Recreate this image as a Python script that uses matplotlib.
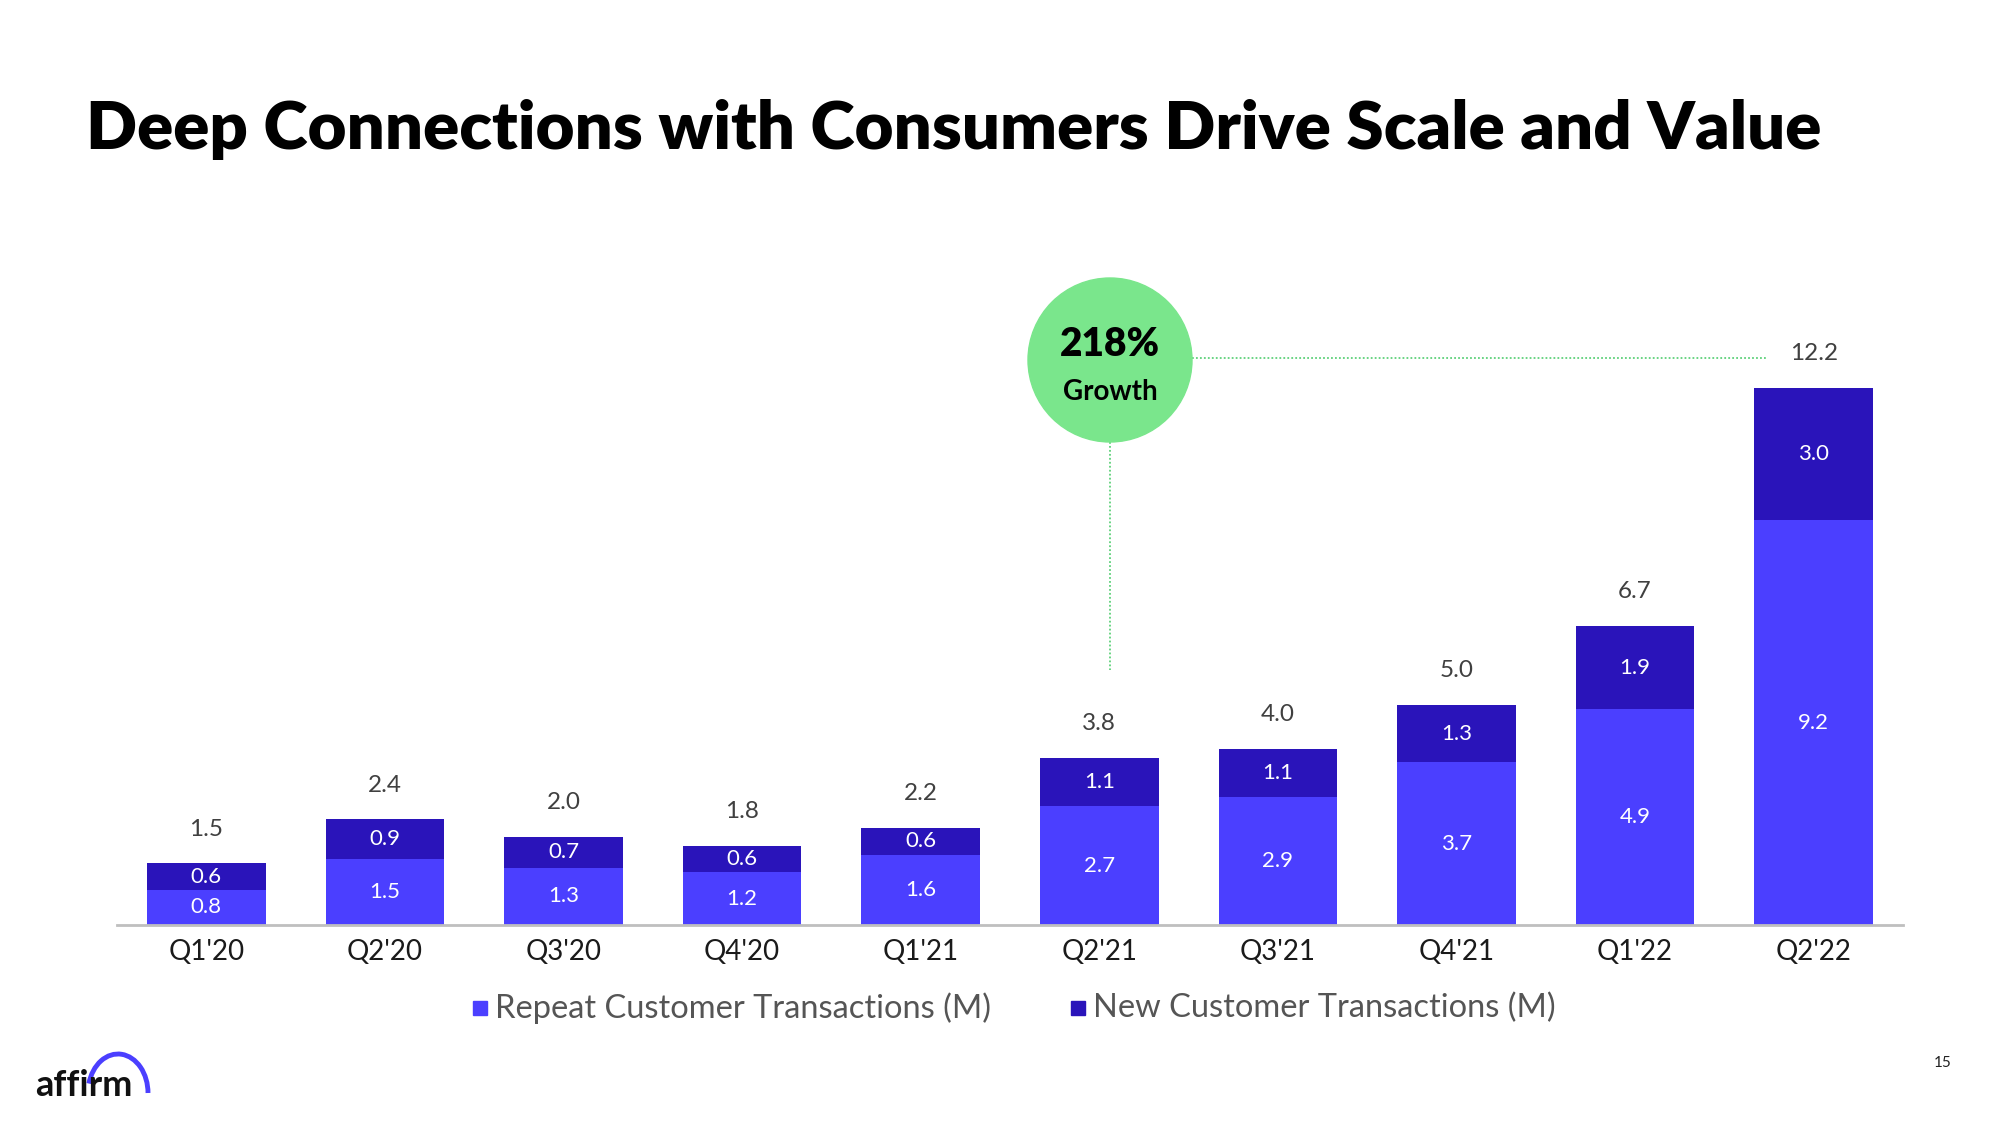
import matplotlib.pyplot as plt
from matplotlib.patches import Ellipse, Arc, Rectangle
from matplotlib.lines import Line2D

# data
quarters = ["Q1'20", "Q2'20", "Q3'20", "Q4'20", "Q1'21", "Q2'21", "Q3'21", "Q4'21", "Q1'22", "Q2'22"]
repeat_tx = [0.8, 1.5, 1.3, 1.2, 1.6, 2.7, 2.9, 3.7, 4.9, 9.2]
new_tx = [0.6, 0.9, 0.7, 0.6, 0.6, 1.1, 1.1, 1.3, 1.9, 3.0]
totals = [1.5, 2.4, 2.0, 1.8, 2.2, 3.8, 4.0, 5.0, 6.7, 12.2]
growth_label = "218%"

C_REPEAT = '#4B3FFF'
C_NEW = '#2A14BA'
C_GREEN = '#7AE68C'
C_TEXT = '#404040'

plt.rcParams['font.family'] = ['Lato', 'DejaVu Sans']

W, H = 2000, 1125
fig = plt.figure(figsize=(20, 11.25), dpi=100)


def fx(px):
    return px / W


def fy(py):
    # pixel from top -> figure fraction
    return 1 - py / H


# axes: baseline at 925px, 44 px per unit
ax_left, ax_right = 117, 1903
base, top = 925, 175
ax = fig.add_axes([fx(ax_left), fy(base), fx(ax_right - ax_left), (base - top) / H])
ax.set_xlim(-0.5, 9.5)
ax.set_ylim(0, (base - top) / 44.0)

x = list(range(len(quarters)))
ax.bar(x, repeat_tx, width=0.665, color=C_REPEAT, label='Repeat Customer Transactions (M)')
ax.bar(x, new_tx, width=0.665, bottom=repeat_tx, color=C_NEW, label='New Customer Transactions (M)')

for i in x:
    ax.text(i, repeat_tx[i] / 2, f'{repeat_tx[i]:.1f}', ha='center', va='center',
            color='white', fontsize=16)
    ax.text(i, repeat_tx[i] + new_tx[i] / 2, f'{new_tx[i]:.1f}', ha='center', va='center',
            color='white', fontsize=16)
    ax.text(i, repeat_tx[i] + new_tx[i] + 0.78, f'{totals[i]:.1f}', ha='center', va='center',
            color=C_TEXT, fontsize=17.5)

for s in ['top', 'right', 'left']:
    ax.spines[s].set_visible(False)
ax.spines['bottom'].set_color('#BFBFBF')
ax.spines['bottom'].set_linewidth(2)
ax.set_yticks([])
ax.set_xticks(x)
ax.set_xticklabels(quarters, fontsize=20, color='#1a1a1a')
ax.tick_params(axis='x', length=0, pad=10)

# growth bubble
cx, cy, r = 1110, 360, 82
fig.add_artist(Line2D([fx(cx + r), fx(1767)], [fy(358), fy(358)], transform=fig.transFigure,
                      color='#5ED17A', linestyle=(0, (1, 1.2)), linewidth=1.3))
fig.add_artist(Line2D([fx(cx), fx(cx)], [fy(cy + r), fy(670)], transform=fig.transFigure,
                      color='#5ED17A', linestyle=(0, (1, 1.2)), linewidth=1.3))
fig.add_artist(Ellipse((fx(cx), fy(cy)), 2 * r / W, 2 * r / H, transform=fig.transFigure,
                       color=C_GREEN, zorder=3))
fig.text(fx(cx), fy(345), growth_label, ha='center', va='center', fontsize=28,
         fontweight='heavy', color='black', zorder=4)
fig.text(fx(cx), fy(392), 'Growth', ha='center', va='center', fontsize=20,
         fontweight='bold', color='black', zorder=4)

# title
fig.text(fx(86), fy(130), 'Deep Connections with Consumers Drive Scale and Value',
         ha='left', va='center', fontsize=48.3, fontweight='heavy', color='black')

# legend
for sx, label, col in [(473, 'Repeat Customer Transactions (M)', C_REPEAT),
                       (1071, 'New Customer Transactions (M)', C_NEW)]:
    fig.add_artist(Rectangle((fx(sx), fy(1015)), 14 / W, 14 / H, transform=fig.transFigure,
                             color=col))
    fig.text(fx(sx + 22), fy(1008), label, ha='left', va='center', fontsize=23.5, color='#555555')

# logo
fig.text(fx(35), fy(1086), 'affirm', ha='left', va='center', fontsize=26, fontweight='bold',
         color='#111111')
fig.add_artist(Arc((fx(118), fy(1093)), 60 / W, 78 / H, theta1=0, theta2=150,
                   transform=fig.transFigure, color=C_REPEAT, linewidth=3.5))

# page number
fig.text(fx(1943), fy(1063), '15', ha='center', va='center', fontsize=11, color='#222222')

fig.savefig('out.png', dpi=100, facecolor='white')
